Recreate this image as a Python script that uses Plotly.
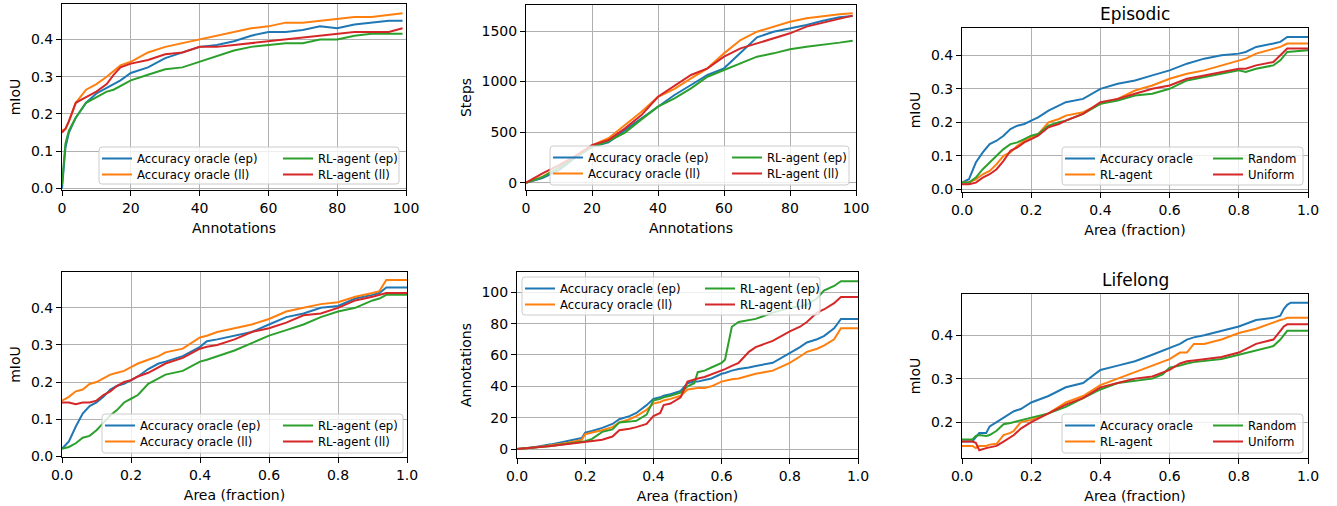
import plotly.graph_objects as go

W, H = 1337, 506
BLUE, ORANGE, GREEN, RED = '#1f77b4', '#ff7f0e', '#2ca02c', '#d62728'
FONT = 'DejaVu Sans'

# ---------------- Panel 1: mIoU vs Annotations ----------------
p1_x = [0, 1, 2, 4, 7, 10, 13, 15, 17, 20, 25, 30, 35, 40, 45, 50, 55, 60, 65, 70, 75, 80, 85, 90, 95, 99]
p1_acc_ep = [0.0, 0.11, 0.15, 0.19, 0.23, 0.255, 0.27, 0.28, 0.29, 0.31, 0.325, 0.35, 0.365, 0.38, 0.385,
             0.395, 0.41, 0.42, 0.42, 0.425, 0.435, 0.43, 0.44, 0.445, 0.45, 0.45]
p1_acc_ll = [0.155, 0.16, 0.18, 0.23, 0.265, 0.28, 0.30, 0.315, 0.33, 0.34, 0.365, 0.38, 0.39, 0.40, 0.41,
             0.42, 0.43, 0.435, 0.445, 0.445, 0.45, 0.455, 0.46, 0.46, 0.465, 0.47]
p1_rl_ep = [0.01, 0.12, 0.155, 0.19, 0.23, 0.245, 0.26, 0.265, 0.275, 0.29, 0.305, 0.32, 0.325, 0.34, 0.355,
            0.37, 0.38, 0.385, 0.39, 0.39, 0.40, 0.40, 0.41, 0.415, 0.415, 0.415]
p1_rl_ll = [0.15, 0.16, 0.18, 0.23, 0.245, 0.26, 0.28, 0.305, 0.325, 0.335, 0.345, 0.36, 0.365, 0.38, 0.38,
            0.385, 0.39, 0.395, 0.40, 0.405, 0.41, 0.415, 0.42, 0.42, 0.42, 0.43]

# ---------------- Panel 2: Steps vs Annotations ----------------
p2_x = [0, 5, 10, 15, 20, 25, 30, 35, 40, 45, 50, 55, 60, 65, 70, 75, 80, 85, 90, 95, 99]
p2_acc_ep = [0, 45, 125, 250, 355, 400, 520, 636, 758, 867, 966, 1065, 1131, 1279, 1437, 1493, 1526, 1559, 1602, 1635, 1648]
p2_acc_ll = [0, 60, 150, 260, 370, 440, 570, 702, 850, 928, 1032, 1131, 1279, 1411, 1493, 1543, 1592, 1625, 1648, 1665, 1675]
p2_rl_ep = [0, 55, 150, 255, 355, 410, 495, 626, 752, 834, 933, 1048, 1114, 1180, 1246, 1279, 1319, 1345, 1362, 1385, 1404]
p2_rl_ll = [0, 92, 175, 265, 372, 422, 537, 669, 850, 960, 1065, 1131, 1246, 1328, 1378, 1427, 1477, 1543, 1582, 1625, 1652]

# ---------------- Panel 3: Episodic, mIoU vs Area ----------------
p3_x = [0, 0.02, 0.04, 0.06, 0.08, 0.1, 0.12, 0.14, 0.16, 0.18, 0.2, 0.22, 0.25, 0.28, 0.3, 0.35, 0.4, 0.45,
        0.5, 0.55, 0.6, 0.65, 0.7, 0.75, 0.8, 0.82, 0.85, 0.9, 0.92, 0.94, 1.0]
p3_oracle = [0.02, 0.03, 0.08, 0.11, 0.135, 0.145, 0.16, 0.18, 0.19, 0.195, 0.205, 0.215, 0.235, 0.25, 0.26,
             0.27, 0.30, 0.315, 0.325, 0.34, 0.355, 0.375, 0.39, 0.40, 0.405, 0.41, 0.425, 0.435, 0.44, 0.455, 0.455]
p3_rl = [0.02, 0.02, 0.03, 0.045, 0.055, 0.075, 0.10, 0.11, 0.13, 0.145, 0.155, 0.165, 0.20, 0.21, 0.22,
         0.23, 0.255, 0.27, 0.295, 0.31, 0.33, 0.345, 0.355, 0.37, 0.385, 0.39, 0.405, 0.42, 0.425, 0.435, 0.435]
p3_random = [0.02, 0.02, 0.035, 0.06, 0.08, 0.10, 0.12, 0.135, 0.14, 0.15, 0.16, 0.165, 0.19, 0.20, 0.205,
             0.225, 0.255, 0.265, 0.28, 0.285, 0.30, 0.325, 0.335, 0.345, 0.355, 0.35, 0.36, 0.37, 0.385, 0.41, 0.415]
p3_uniform = [0.015, 0.015, 0.02, 0.035, 0.045, 0.06, 0.085, 0.115, 0.125, 0.14, 0.15, 0.16, 0.185, 0.195, 0.205,
              0.225, 0.26, 0.27, 0.285, 0.30, 0.31, 0.33, 0.34, 0.35, 0.36, 0.36, 0.37, 0.38, 0.40, 0.42, 0.42]

# ---------------- Panel 4: mIoU vs Area ----------------
p4_x = [0, 0.02, 0.04, 0.06, 0.08, 0.1, 0.12, 0.14, 0.16, 0.18, 0.2, 0.22, 0.25, 0.28, 0.3, 0.35, 0.4, 0.42,
        0.45, 0.5, 0.55, 0.6, 0.65, 0.7, 0.75, 0.8, 0.85, 0.9, 0.92, 0.94, 1.0]
p4_acc_ep = [0.02, 0.04, 0.08, 0.115, 0.135, 0.145, 0.16, 0.18, 0.19, 0.195, 0.205, 0.215, 0.235, 0.25, 0.255,
             0.27, 0.295, 0.31, 0.315, 0.325, 0.335, 0.355, 0.375, 0.385, 0.40, 0.405, 0.425, 0.435, 0.44, 0.455, 0.455]
p4_acc_ll = [0.15, 0.16, 0.175, 0.18, 0.195, 0.20, 0.21, 0.22, 0.225, 0.23, 0.24, 0.25, 0.26, 0.27, 0.28,
             0.29, 0.32, 0.325, 0.335, 0.345, 0.355, 0.37, 0.39, 0.40, 0.41, 0.415, 0.43, 0.44, 0.445, 0.475, 0.475]
p4_rl_ep = [0.02, 0.025, 0.035, 0.05, 0.055, 0.07, 0.09, 0.11, 0.125, 0.145, 0.155, 0.165, 0.195, 0.21, 0.22,
            0.23, 0.255, 0.26, 0.27, 0.285, 0.305, 0.325, 0.34, 0.355, 0.375, 0.39, 0.40, 0.42, 0.425, 0.435, 0.435]
p4_rl_ll = [0.145, 0.145, 0.14, 0.145, 0.145, 0.15, 0.165, 0.175, 0.19, 0.20, 0.205, 0.215, 0.225, 0.24, 0.25,
            0.265, 0.29, 0.295, 0.30, 0.315, 0.335, 0.345, 0.36, 0.38, 0.385, 0.40, 0.42, 0.43, 0.435, 0.44, 0.44]

# ---------------- Panel 5: Annotations vs Area ----------------
p5_x = [0, 0.05, 0.1, 0.15, 0.19, 0.2, 0.22, 0.25, 0.28, 0.3, 0.33, 0.35, 0.38, 0.4, 0.42, 0.43, 0.45, 0.48,
        0.5, 0.52, 0.53, 0.55, 0.57, 0.6, 0.61, 0.63, 0.65, 0.68, 0.7, 0.75, 0.8, 0.83, 0.85, 0.88, 0.9, 0.93, 0.95, 1.0]
p5_acc_ep = [0, 1.2, 3, 5, 7, 10.5, 11.5, 13.5, 16, 19, 21, 23, 28, 32, 33, 34, 35, 37,
             42, 43, 43, 44, 45, 48, 48.5, 50, 51, 52, 53, 55, 61, 65, 68, 70, 72, 77, 83, 83]
p5_acc_ll = [0, 1, 2.5, 4, 6, 9.5, 10.5, 12, 14, 17, 19, 21, 25, 29, 30, 31, 32, 34,
             38, 38.5, 39, 39, 40, 43, 43.5, 44.5, 45, 47, 48, 50, 55, 59, 62, 64, 66, 70, 77, 77]
p5_rl_ep = [0, 0.8, 2, 3.5, 5, 5, 6.5, 11, 12.5, 17, 17.5, 18, 22, 31, 32, 33, 34, 36,
            40, 42, 49, 50, 52, 55, 57, 78, 81, 82, 83, 87, 90, 91, 92, 96, 101, 104, 107, 107]
p5_rl_ll = [0, 0.8, 2, 3.2, 4.5, 4.5, 5, 6, 8, 12, 13, 14, 16, 21, 23, 28, 29, 33,
            43, 44.5, 45, 46, 47.5, 50, 51, 53, 55, 62, 65, 69, 75, 78, 81, 87, 89, 93, 97, 97]

# ---------------- Panel 6: Lifelong, mIoU vs Area ----------------
p6_x = [0, 0.03, 0.04, 0.05, 0.07, 0.08, 0.1, 0.12, 0.14, 0.15, 0.17, 0.2, 0.25, 0.3, 0.35, 0.4, 0.45, 0.5,
        0.55, 0.58, 0.6, 0.63, 0.65, 0.67, 0.7, 0.75, 0.8, 0.85, 0.9, 0.92, 0.93, 0.94, 0.95, 1.0]
p6_oracle = [0.155, 0.155, 0.165, 0.175, 0.175, 0.19, 0.20, 0.21, 0.22, 0.225, 0.23, 0.245, 0.26, 0.28, 0.29,
             0.32, 0.33, 0.34, 0.355, 0.365, 0.37, 0.38, 0.39, 0.395, 0.40, 0.41, 0.42, 0.435, 0.44, 0.445,
             0.46, 0.47, 0.475, 0.475]
p6_rl = [0.145, 0.145, 0.14, 0.145, 0.145, 0.148, 0.15, 0.17, 0.175, 0.18, 0.20, 0.205, 0.22, 0.245, 0.26,
         0.285, 0.30, 0.315, 0.33, 0.34, 0.345, 0.36, 0.36, 0.38, 0.38, 0.39, 0.405, 0.415, 0.43, 0.435,
         0.437, 0.44, 0.44, 0.44]
p6_random = [0.16, 0.16, 0.168, 0.17, 0.168, 0.17, 0.18, 0.195, 0.198, 0.20, 0.205, 0.21, 0.22, 0.235, 0.255,
             0.275, 0.29, 0.295, 0.30, 0.31, 0.325, 0.33, 0.335, 0.338, 0.34, 0.345, 0.355, 0.365, 0.375, 0.39,
             0.40, 0.41, 0.41, 0.41]
p6_uniform = [0.155, 0.155, 0.152, 0.135, 0.14, 0.142, 0.145, 0.155, 0.165, 0.17, 0.185, 0.20, 0.22, 0.24, 0.255,
              0.28, 0.29, 0.30, 0.305, 0.315, 0.32, 0.335, 0.34, 0.342, 0.345, 0.35, 0.36, 0.38, 0.39, 0.41,
              0.42, 0.425, 0.425, 0.425]

LBL_EP = ['Accuracy oracle (ep)', 'Accuracy oracle (ll)', 'RL-agent (ep)', 'RL-agent (ll)']
LBL_BASE = ['Accuracy oracle', 'RL-agent', 'Random', 'Uniform']
COLORS = [BLUE, ORANGE, GREEN, RED]

panels = [
    dict(x=p1_x, ys=[p1_acc_ep, p1_acc_ll, p1_rl_ep, p1_rl_ll], labels=LBL_EP,
         box=(62, 4, 406, 190), xr=[0, 100], yr=[-0.004, 0.495], xt=[0, 20, 40, 60, 80, 100],
         yt=[0.0, 0.1, 0.2, 0.3, 0.4], yfmt='.1f', xfmt='', xtitle='Annotations', ytitle='mIoU',
         leg=(99, 147, 399, 184), col2=184, title=None),
    dict(x=p2_x, ys=[p2_acc_ep, p2_acc_ll, p2_rl_ep, p2_rl_ll], labels=LBL_EP,
         box=(526, 5, 856, 190), xr=[0, 100], yr=[-72, 1757], xt=[0, 20, 40, 60, 80, 100],
         yt=[0, 500, 1000, 1500], yfmt='', xfmt='', xtitle='Annotations', ytitle='Steps',
         leg=(550, 146, 849, 185), col2=182, title=None),
    dict(x=p3_x, ys=[p3_oracle, p3_rl, p3_random, p3_uniform], labels=LBL_BASE,
         box=(962, 28, 1308, 192), xr=[0, 1], yr=[-0.008, 0.4815], xt=[0, 0.2, 0.4, 0.6, 0.8, 1.0],
         yt=[0.0, 0.1, 0.2, 0.3, 0.4], yfmt='.1f', xfmt='.1f', xtitle='Area (fraction)', ytitle='mIoU',
         leg=(1062, 147, 1303, 185), col2=151, title='Episodic'),
    dict(x=p4_x, ys=[p4_acc_ep, p4_acc_ll, p4_rl_ep, p4_rl_ll], labels=LBL_EP,
         box=(62, 272, 407, 457), xr=[0, 1], yr=[-0.002, 0.4966], xt=[0, 0.2, 0.4, 0.6, 0.8, 1.0],
         yt=[0.0, 0.1, 0.2, 0.3, 0.4], yfmt='.1f', xfmt='.1f', xtitle='Area (fraction)', ytitle='mIoU',
         leg=(102, 414, 403, 453), col2=181, title=None),
    dict(x=p5_x, ys=[p5_acc_ep, p5_acc_ll, p5_rl_ep, p5_rl_ll], labels=LBL_EP,
         box=(517, 272, 858, 458), xr=[0, 1], yr=[-5.7, 112.9], xt=[0, 0.2, 0.4, 0.6, 0.8, 1.0],
         yt=[0, 20, 40, 60, 80, 100], yfmt='', xfmt='.1f', xtitle='Area (fraction)', ytitle='Annotations',
         leg=(522, 277, 820, 315), col2=183, title=None),
    dict(x=p6_x, ys=[p6_oracle, p6_rl, p6_random, p6_uniform], labels=LBL_BASE,
         box=(962, 294, 1308, 458), xr=[0, 1], yr=[0.1172, 0.4949], xt=[0, 0.2, 0.4, 0.6, 0.8, 1.0],
         yt=[0.2, 0.3, 0.4], yfmt='.1f', xfmt='.1f', xtitle='Area (fraction)', ytitle='mIoU',
         leg=(1062, 414, 1303, 453), col2=151, title='Lifelong'),
]

fig = go.Figure()
layout = dict(width=W, height=H, margin=dict(l=0, r=0, t=0, b=0, pad=0, autoexpand=False),
              paper_bgcolor='white', plot_bgcolor='white',
              font=dict(family=FONT, size=14, color='black'), showlegend=True)
shapes, annotations = [], []

def px_x(v):
    return v / W

def px_y(v):
    return 1 - v / H

def rounded(l, t, r, b, rad=3):
    rx, ry = rad / W, rad / H
    L, R, T, B = px_x(l), px_x(r), px_y(t), px_y(b)
    return (f"M{L+rx},{T} L{R-rx},{T} Q{R},{T} {R},{T-ry} L{R},{B+ry} Q{R},{B} {R-rx},{B} "
            f"L{L+rx},{B} Q{L},{B} {L},{B+ry} L{L},{T-ry} Q{L},{T} {L+rx},{T} Z")

leg_n = 0
for i, p in enumerate(panels, start=1):
    sfx = '' if i == 1 else str(i)
    l, t, r, b = p['box']
    axis_common = dict(ticks='outside', ticklen=5, tickwidth=1.1, tickcolor='black',
                       showline=True, linecolor='black', linewidth=1.1, mirror=True,
                       showgrid=True, gridcolor='#b0b0b0', gridwidth=1.1, zeroline=False,
                       automargin=False,
                       tickfont=dict(family=FONT, size=14, color='black'))
    layout['xaxis' + sfx] = dict(domain=[px_x(l), px_x(r)], range=p['xr'], tickvals=p['xt'],
                                 tickformat=p['xfmt'], anchor='y' + sfx,
                                 title=dict(text=p['xtitle'], standoff=8,
                                            font=dict(family=FONT, size=14, color='black')),
                                 **axis_common)
    layout['yaxis' + sfx] = dict(domain=[px_y(b), px_y(t)], range=p['yr'], tickvals=p['yt'],
                                 tickformat=p['yfmt'], anchor='x' + sfx,
                                 title=dict(text=p['ytitle'], standoff=6,
                                            font=dict(family=FONT, size=14, color='black')),
                                 **axis_common)
    # legend frame
    ll, lt, lr, lb = p['leg']
    shapes.append(dict(type='path', xref='paper', yref='paper', path=rounded(ll, lt, lr, lb),
                       fillcolor='rgba(255,255,255,0.8)', line=dict(color='#cccccc', width=1),
                       layer='above'))
    # entries: 2 columns x 2 rows, column-major
    for k, (yv, lab, col) in enumerate(zip(p['ys'], p['labels'], COLORS)):
        leg_n += 1
        lname = 'legend' if leg_n == 1 else f'legend{leg_n}'
        colx = ll + (3 if k < 2 else p['col2'])
        rowy = lt + (7 if k % 2 == 0 else 23)
        layout[lname] = dict(x=px_x(colx - 5), y=px_y(rowy - 10), xanchor='left', yanchor='top',
                             bgcolor='rgba(0,0,0,0)', borderwidth=0, itemwidth=30,
                             font=dict(family=FONT, size=11.7, color='black'))
        fig.add_trace(go.Scatter(x=p['x'], y=yv, mode='lines', name=lab,
                                 line=dict(color=col, width=2),
                                 xaxis='x' + sfx, yaxis='y' + sfx, legend=lname))
    if p['title']:
        annotations.append(dict(text=p['title'], x=px_x((l + r) / 2), y=px_y(t - 14),
                                xref='paper', yref='paper', showarrow=False,
                                xanchor='center', yanchor='middle',
                                font=dict(family=FONT, size=17, color='black')))

layout['shapes'] = shapes
layout['annotations'] = annotations
fig.update_layout(**layout)
fig.write_html('out.html')
